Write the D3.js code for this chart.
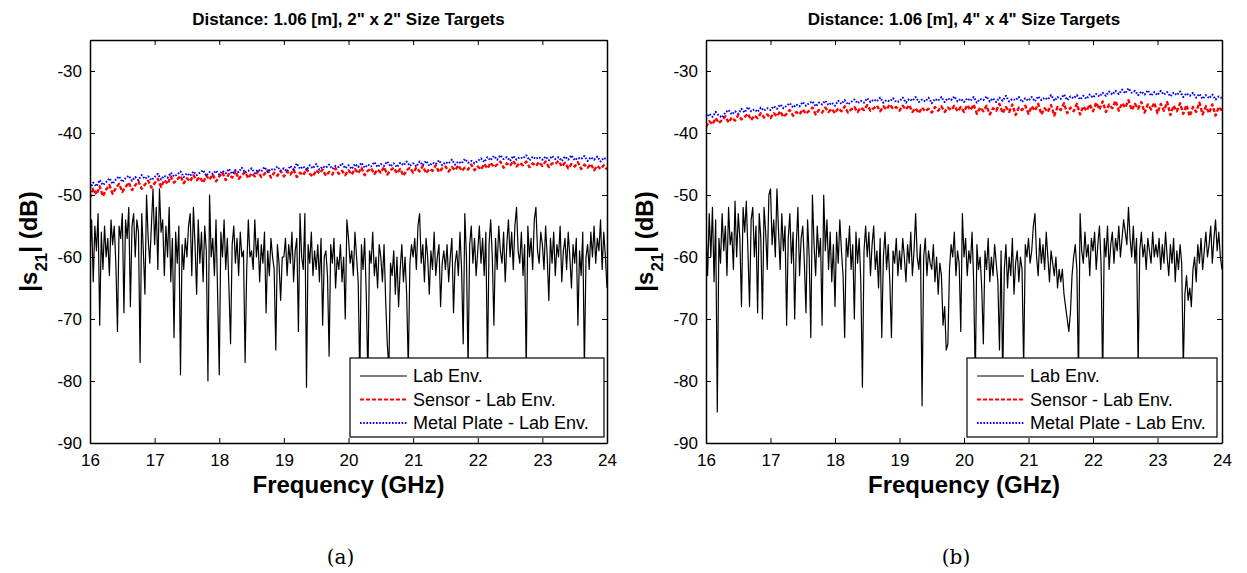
<!DOCTYPE html>
<html>
<head>
<meta charset="utf-8">
<title>|S21| vs frequency</title>
<script src="https://d3js.org/d3.v7.min.js"></script>
<style>
  body { margin: 0; background: #fff; }
  text { font-family: "Liberation Sans", Arial, sans-serif; fill: #000; }
</style>
</head>
<body>
<div id="chart"></div>
<script>
// sweep and axis ticks
var freqRange = [16, 24];
var xTicks = [16, 17, 18, 19, 20, 21, 22, 23, 24];
var yTicks = [-90, -80, -70, -60, -50, -40, -30];
var legendLabels = ["Lab Env.", "Sensor - Lab Env.", "Metal Plate - Lab Env."];
var titles = ["Distance: 1.06 [m], 2\" x 2\" Size Targets", "Distance: 1.06 [m], 4\" x 4\" Size Targets"];
var subLabels = ["(a)", "(b)"];

// (a) 2" x 2" targets, |S21| in dB, 16 -> 24 GHz
var labA = [
  -60,-54,-64,-55,-59,-53,-71,-56,-62,-55,-60,-57,-63,-54,-58,-55,-61,-72,-55,-57,
  -53,-69,-54,-57,-52,-68,-55,-53,-60,-54,-56,-77,-53,-59,-66,-50,-57,-61,-55,-49,
  -58,-52,-62,-49,-56,-54,-63,-55,-60,-52,-64,-57,-73,-56,-61,-55,-79,-58,-62,-57,
  -60,-55,-53,-63,-52,-58,-66,-54,-61,-56,-64,-55,-59,-80,-50,-60,-57,-63,-54,-66,
  -79,-56,-60,-54,-62,-57,-65,-74,-58,-55,-61,-57,-63,-56,-60,-59,-77,-62,-54,-60,
  -59,-62,-54,-60,-57,-64,-58,-61,-56,-69,-59,-63,-57,-60,-62,-75,-58,-61,-67,-60,
  -60,-57,-63,-58,-61,-56,-64,-59,-57,-72,-53,-60,-62,-53,-81,-58,-61,-56,-63,-59,
  -62,-58,-64,-57,-71,-60,-59,-63,-76,-58,-61,-57,-65,-60,-62,-58,-64,-60,-70,-54,
  -57,-61,-59,-63,-56,-60,-64,-80,-58,-62,-57,-66,-80,-59,-61,-56,-63,-60,-65,-58,
  -60,-64,-58,-67,-74,-78,-61,-63,-59,-66,-60,-68,-62,-58,-64,-60,-66,-78,-61,-58,
  -60,-57,-62,-55,-53,-61,-58,-64,-57,-60,-66,-59,-62,-56,-63,-60,-58,-68,-61,-59,
  -62,-58,-64,-60,-57,-69,-61,-59,-63,-56,-62,-74,-53,-60,-78,-58,-55,-61,-57,-63,
  -59,-55,-61,-57,-63,-56,-78,-58,-54,-60,-71,-57,-62,-55,-59,-61,-56,-64,-58,-54,
  -60,-56,-62,-55,-52,-59,-61,-56,-63,-58,-78,-55,-60,-57,-62,-54,-52,-59,-61,-56,
  -58,-62,-55,-60,-67,-57,-61,-56,-63,-58,-60,-55,-64,-59,-57,-62,-56,-60,-65,-58,
  -61,-57,-71,-59,-63,-56,-78,-60,-58,-62,-56,-60,-55,-61,-57,-59,-54,-62,-56,-60,
  -65
];
var sensorA = [
  -50.5,-49.0,-49.9,-48.6,-50.2,-49.1,-48.4,-49.8,-48.9,-48.2,-49.5,-48.7,-48.0,-49.2,-48.4,-47.8,-49.0,-48.3,-47.7,-48.8,
  -48.1,-47.4,-48.7,-47.6,-48.2,-47.0,-48.0,-47.5,-46.9,-48.1,-47.3,-47.8,-46.8,-47.6,-47.1,-48.0,-46.9,-47.5,-46.7,-47.8,
  -47.0,-46.4,-47.6,-46.6,-47.2,-46.1,-47.4,-46.8,-46.3,-47.3,-46.5,-47.0,-46.2,-47.1,-46.6,-46.0,-47.2,-46.4,-46.9,-46.1,
  -47.0,-46.2,-46.7,-45.9,-47.1,-46.4,-46.8,-45.8,-46.6,-47.0,-46.0,-46.5,-45.9,-46.9,-46.3,-46.7,-45.7,-46.6,-46.1,-46.8,
  -46.0,-46.7,-45.8,-46.5,-45.6,-46.8,-46.1,-45.7,-46.6,-45.9,-46.4,-45.5,-46.7,-46.0,-45.6,-46.5,-45.8,-46.9,-46.0,-45.6,
  -46.4,-45.6,-46.2,-45.3,-46.5,-45.8,-46.1,-45.2,-46.3,-45.7,-45.4,-46.2,-45.5,-46.0,-45.2,-46.1,-45.6,-45.9,-45.1,-46.0,
  -45.4,-45.9,-45.0,-45.7,-44.8,-45.5,-45.1,-44.6,-45.6,-44.9,-45.3,-44.5,-45.4,-44.8,-45.2,-44.6,-45.5,-44.9,-45.3,-44.7,
  -45.3,-44.6,-45.5,-44.9,-45.0,-44.5,-45.4,-44.8,-45.7,-45.0,-45.4,-44.7,-45.8,-45.1,-45.6,-45.0,-46.0,-45.3,-45.8,-45.2,
  -45.9
];
var plateA = [
  -49.0,-48.0,-48.6,-47.6,-48.4,-47.9,-47.3,-48.2,-47.5,-47.0,-47.9,-47.3,-46.9,-47.7,-47.1,-47.6,-46.8,-47.4,-47.0,-47.6,
  -47.1,-46.6,-47.5,-46.9,-47.2,-46.4,-47.0,-46.7,-46.2,-47.1,-46.5,-46.9,-46.2,-46.8,-46.4,-46.0,-46.9,-46.3,-46.6,-46.1,
  -46.7,-46.1,-46.5,-45.8,-46.6,-46.0,-46.3,-45.6,-46.4,-46.1,-45.7,-46.5,-45.9,-46.2,-45.5,-46.3,-45.8,-46.0,-45.4,-46.1,
  -45.7,-46.2,-45.3,-45.9,-44.9,-45.8,-45.4,-46.0,-45.2,-45.7,-45.0,-45.9,-45.4,-45.6,-45.1,-45.8,-45.3,-45.5,-44.9,-45.7,
  -45.2,-45.8,-45.0,-45.5,-44.8,-45.6,-45.1,-45.4,-44.7,-45.5,-45.0,-45.3,-44.6,-45.4,-44.9,-45.5,-44.8,-45.2,-44.6,-45.3,
  -44.9,-45.4,-44.6,-45.2,-44.5,-45.3,-44.8,-45.0,-44.4,-45.2,-44.7,-44.9,-44.3,-45.1,-44.6,-44.9,-44.2,-44.8,-44.5,-44.9,
  -44.5,-44.1,-44.7,-43.9,-44.4,-43.7,-44.3,-43.6,-44.2,-43.9,-44.5,-43.7,-44.3,-43.9,-44.1,-43.6,-44.4,-43.8,-44.2,-43.9,
  -44.3,-43.8,-44.4,-43.7,-44.2,-43.9,-44.5,-43.8,-44.3,-43.6,-44.4,-44.0,-44.2,-43.7,-44.5,-43.9,-44.3,-43.8,-44.6,-44.0,
  -44.3
];

// (b) 4" x 4" targets
var labB = [
  -55,-63,-53,-60,-52,-64,-54,-85,-57,-61,-53,-59,-55,-63,-52,-58,-56,-62,-51,-60,
  -53,-57,-68,-52,-56,-51,-59,-68,-54,-52,-60,-55,-69,-53,-57,-70,-52,-56,-62,-50,
  -49,-58,-54,-60,-49,-56,-62,-53,-59,-55,-71,-57,-53,-61,-56,-70,-58,-52,-63,-57,
  -55,-61,-69,-54,-60,-73,-50,-58,-63,-55,-60,-57,-71,-50,-59,-54,-62,-56,-64,-58,
  -68,-56,-61,-54,-59,-63,-73,-57,-60,-55,-62,-58,-70,-56,-61,-57,-64,-81,-59,-55,
  -60,-56,-63,-58,-55,-62,-59,-65,-57,-73,-60,-56,-62,-58,-64,-73,-59,-61,-57,-63,
  -59,-62,-57,-60,-64,-58,-61,-56,-63,-59,-53,-60,-62,-58,-84,-60,-57,-63,-59,-61,
  -62,-58,-64,-60,-66,-61,-63,-71,-68,-75,-74,-62,-58,-60,-56,-63,-59,-61,-72,-53,
  -60,-57,-63,-59,-61,-56,-64,-80,-58,-62,-60,-65,-74,-59,-62,-57,-64,-60,-63,-58,
  -61,-64,-75,-59,-80,-62,-58,-65,-60,-63,-57,-66,-61,-59,-64,-60,-62,-78,-58,-60,
  -57,-61,-59,-55,-53,-60,-63,-57,-61,-58,-62,-56,-60,-64,-59,-61,-63,-60,-65,-62,
  -64,-62,-66,-68,-70,-72,-69,-63,-60,-58,-62,-80,-53,-59,-61,-56,-60,-58,-63,-57,
  -59,-56,-62,-58,-55,-61,-80,-57,-60,-55,-62,-58,-56,-61,-57,-59,-55,-60,-57,-54,
  -56,-58,-52,-57,-60,-55,-61,-57,-78,-59,-56,-60,-58,-62,-57,-59,-61,-56,-60,-58,
  -60,-57,-62,-58,-61,-56,-60,-63,-58,-61,-57,-64,-59,-62,-58,-61,-78,-66,-63,-67,
  -65,-68,-62,-60,-64,-58,-61,-57,-62,-59,-56,-60,-58,-55,-61,-57,-54,-59,-56,-60,
  -62
];
var sensorB = [
  -39.0,-38.1,-38.6,-37.6,-38.4,-37.9,-37.3,-38.3,-37.5,-38.0,-37.1,-37.8,-37.4,-36.9,-37.9,-37.2,-37.6,-36.8,-37.5,-37.0,
  -37.6,-36.8,-37.3,-36.5,-37.4,-36.9,-36.3,-37.2,-36.6,-37.0,-36.2,-36.9,-36.4,-35.9,-37.0,-36.3,-36.7,-35.9,-36.6,-36.1,
  -36.8,-36.0,-36.5,-35.7,-36.7,-36.2,-35.8,-36.6,-35.9,-36.3,-35.5,-36.4,-36.0,-35.6,-36.5,-35.7,-36.2,-35.4,-36.1,-35.8,
  -36.4,-35.6,-36.2,-35.5,-36.6,-36.0,-36.8,-35.9,-36.5,-36.1,-36.7,-35.8,-36.4,-35.7,-36.6,-35.9,-36.3,-35.6,-36.5,-35.8,
  -36.6,-35.5,-36.3,-35.4,-36.9,-35.9,-36.5,-35.6,-37.0,-36.0,-36.4,-35.3,-36.8,-35.8,-36.6,-35.4,-37.1,-35.9,-36.3,-35.6,
  -36.9,-35.7,-36.4,-35.3,-37.0,-36.0,-36.6,-35.5,-37.2,-35.8,-36.3,-35.2,-36.8,-35.9,-36.5,-35.3,-37.0,-35.7,-36.4,-35.4,
  -36.5,-35.1,-36.2,-34.9,-36.6,-35.4,-36.0,-34.8,-36.4,-35.2,-35.9,-34.7,-36.3,-35.3,-36.1,-35.0,-36.7,-35.4,-36.2,-35.1,
  -36.8,-35.3,-36.4,-35.0,-37.1,-35.6,-36.5,-35.2,-36.9,-35.5,-37.3,-35.8,-36.6,-35.1,-37.0,-35.7,-36.8,-35.4,-37.2,-35.8,
  -36.4
];
var plateB = [
  -37.7,-36.9,-37.4,-36.6,-37.2,-37.5,-36.7,-36.3,-37.0,-36.5,-36.9,-36.1,-36.7,-35.8,-36.5,-36.2,-36.6,-35.9,-36.4,-36.0,
  -36.3,-35.7,-36.1,-35.4,-36.0,-35.6,-35.2,-35.9,-35.4,-35.7,-35.0,-35.6,-35.2,-34.9,-35.7,-35.1,-35.4,-34.8,-35.5,-35.1,
  -35.6,-34.8,-35.3,-34.7,-35.4,-35.0,-34.6,-35.2,-34.8,-35.1,-34.4,-35.0,-34.6,-34.9,-34.3,-35.1,-34.7,-34.9,-34.4,-35.0,
  -34.9,-34.3,-35.1,-34.5,-34.8,-34.2,-35.0,-34.6,-34.9,-34.3,-35.2,-34.5,-34.8,-34.2,-35.0,-34.4,-34.7,-34.1,-34.9,-34.5,
  -35.0,-34.4,-34.8,-34.2,-35.1,-34.5,-34.7,-34.1,-34.9,-34.4,-35.0,-34.3,-34.8,-34.0,-34.9,-34.5,-34.7,-34.2,-35.0,-34.4,
  -34.8,-34.2,-34.9,-34.1,-34.7,-34.3,-34.6,-33.9,-34.8,-34.2,-34.5,-33.8,-34.7,-34.1,-34.4,-33.9,-34.6,-34.0,-34.5,-33.8,
  -34.3,-33.7,-34.1,-33.5,-34.0,-33.3,-33.8,-33.2,-33.7,-33.0,-33.6,-32.8,-33.5,-33.2,-33.9,-33.3,-33.8,-33.1,-34.0,-33.4,
  -33.9,-33.2,-33.8,-33.4,-34.1,-33.5,-33.9,-33.3,-34.2,-33.6,-34.0,-33.5,-34.3,-33.7,-34.5,-33.9,-34.4,-33.8,-34.6,-34.1,
  -34.4
];

var width = 1247, height = 573;
var plotTop = 40, plotBottom = 443;

var svg = d3.select("#chart")
  .append("svg")
  .attr("width", width)
  .attr("height", height);

var panels = [
  { id: "a", left: 90, right: 607, lab: labA, sensor: sensorA, plate: plateA,
    legend: { x: 350, y: 358, w: 254, h: 79 } },
  { id: "b", left: 706, right: 1222, lab: labB, sensor: sensorB, plate: plateB,
    legend: { x: 967, y: 358, w: 250, h: 79 } }
];

var seriesStyle = [
  { color: "#000", width: 1.2, dash: null },
  { color: "#ff0000", width: 2.4, dash: "4,2" },
  { color: "#0000ff", width: 2, dash: "1.6,1.6" }
];

panels.forEach(function(p, k) {
  var x = d3.scaleLinear().domain(freqRange).range([p.left, p.right]);
  var y = d3.scaleLinear().domain([-90, -25]).range([plotBottom, plotTop]);

  svg.append("clipPath").attr("id", "clip-" + p.id)
    .append("rect")
    .attr("x", p.left).attr("y", plotTop)
    .attr("width", p.right - p.left).attr("height", plotBottom - plotTop);

  var g = svg.append("g");

  // traces: points are spread evenly over the sweep
  var traces = [p.lab, p.sensor, p.plate];
  traces.forEach(function(vals, s) {
    var idx = d3.scaleLinear().domain([0, vals.length - 1]).range(freqRange);
    var line = d3.line()
      .x(function(d, i) { return x(idx(i)); })
      .y(function(d) { return y(d); });
    g.append("path")
      .attr("clip-path", "url(#clip-" + p.id + ")")
      .attr("d", line(vals))
      .attr("fill", "none")
      .attr("stroke", seriesStyle[s].color)
      .attr("stroke-width", seriesStyle[s].width)
      .attr("stroke-dasharray", seriesStyle[s].dash)
      .attr("stroke-linejoin", "round");
  });

  // axes, ticks pointing inwards on all four sides
  var fmt = function(d) { return String(d); };
  var axL = g.append("g").attr("transform", "translate(" + p.left + ",0)")
    .call(d3.axisLeft(y).tickValues(yTicks).tickSize(-5).tickSizeOuter(0).tickPadding(8).tickFormat(fmt));
  var axR = g.append("g").attr("transform", "translate(" + p.right + ",0)")
    .call(d3.axisRight(y).tickValues(yTicks).tickSize(-5).tickSizeOuter(0).tickFormat(""));
  var axB = g.append("g").attr("transform", "translate(0," + plotBottom + ")")
    .call(d3.axisBottom(x).tickValues(xTicks).tickSize(-5).tickSizeOuter(0).tickPadding(11).tickFormat(fmt));
  var axT = g.append("g").attr("transform", "translate(0," + plotTop + ")")
    .call(d3.axisTop(x).tickValues(xTicks).tickSize(-5).tickSizeOuter(0).tickFormat(""));

  [axL, axR, axB, axT].forEach(function(a) {
    a.selectAll("path.domain").attr("stroke", "#000").attr("stroke-width", 1.5);
    a.selectAll(".tick line").attr("stroke", "#000").attr("stroke-width", 1);
    a.selectAll(".tick text")
      .style("font-family", "'Liberation Sans', Arial, sans-serif")
      .style("font-size", "17px").attr("fill", "#000");
  });

  // legend
  var lg = g.append("g").attr("transform", "translate(" + p.legend.x + "," + p.legend.y + ")");
  lg.append("rect")
    .attr("width", p.legend.w).attr("height", p.legend.h)
    .attr("fill", "#fff").attr("stroke", "#000").attr("stroke-width", 1.2);
  legendLabels.forEach(function(lbl, s) {
    var ly = 18 + s * 23.5;
    lg.append("line")
      .attr("x1", 10).attr("x2", 57).attr("y1", ly).attr("y2", ly)
      .attr("stroke", seriesStyle[s].color)
      .attr("stroke-width", s === 0 ? 1 : 2)
      .attr("stroke-dasharray", seriesStyle[s].dash);
    lg.append("text")
      .attr("x", 63).attr("y", ly).attr("dy", "0.36em")
      .style("font-size", "18px")
      .text(lbl);
  });

  // title
  g.append("text")
    .attr("x", (p.left + p.right) / 2).attr("y", 25)
    .attr("text-anchor", "middle")
    .style("font-size", "17px").style("font-weight", "bold")
    .text(titles[k]);

  // y label with subscript
  var yl = g.append("text")
    .attr("transform", "translate(" + (p.left - 53) + "," + ((plotTop + plotBottom) / 2) + ") rotate(-90)")
    .attr("text-anchor", "middle")
    .style("font-size", "24px").style("font-weight", "bold");
  yl.append("tspan").text("|s");
  yl.append("tspan").attr("baseline-shift", "sub").style("font-size", "17px").text("21");
  yl.append("tspan").text("| (dB)");

  // x label
  g.append("text")
    .attr("x", (p.left + p.right) / 2).attr("y", 493)
    .attr("text-anchor", "middle")
    .style("font-size", "24px").style("font-weight", "bold")
    .text("Frequency (GHz)");

  // panel caption
  g.append("text")
    .attr("x", (p.left + p.right) / 2 - 8).attr("y", 564)
    .attr("text-anchor", "middle")
    .style("font-family", "'DejaVu Serif', serif")
    .style("font-size", "20px")
    .text(subLabels[k]);
});
</script>
</body>
</html>
